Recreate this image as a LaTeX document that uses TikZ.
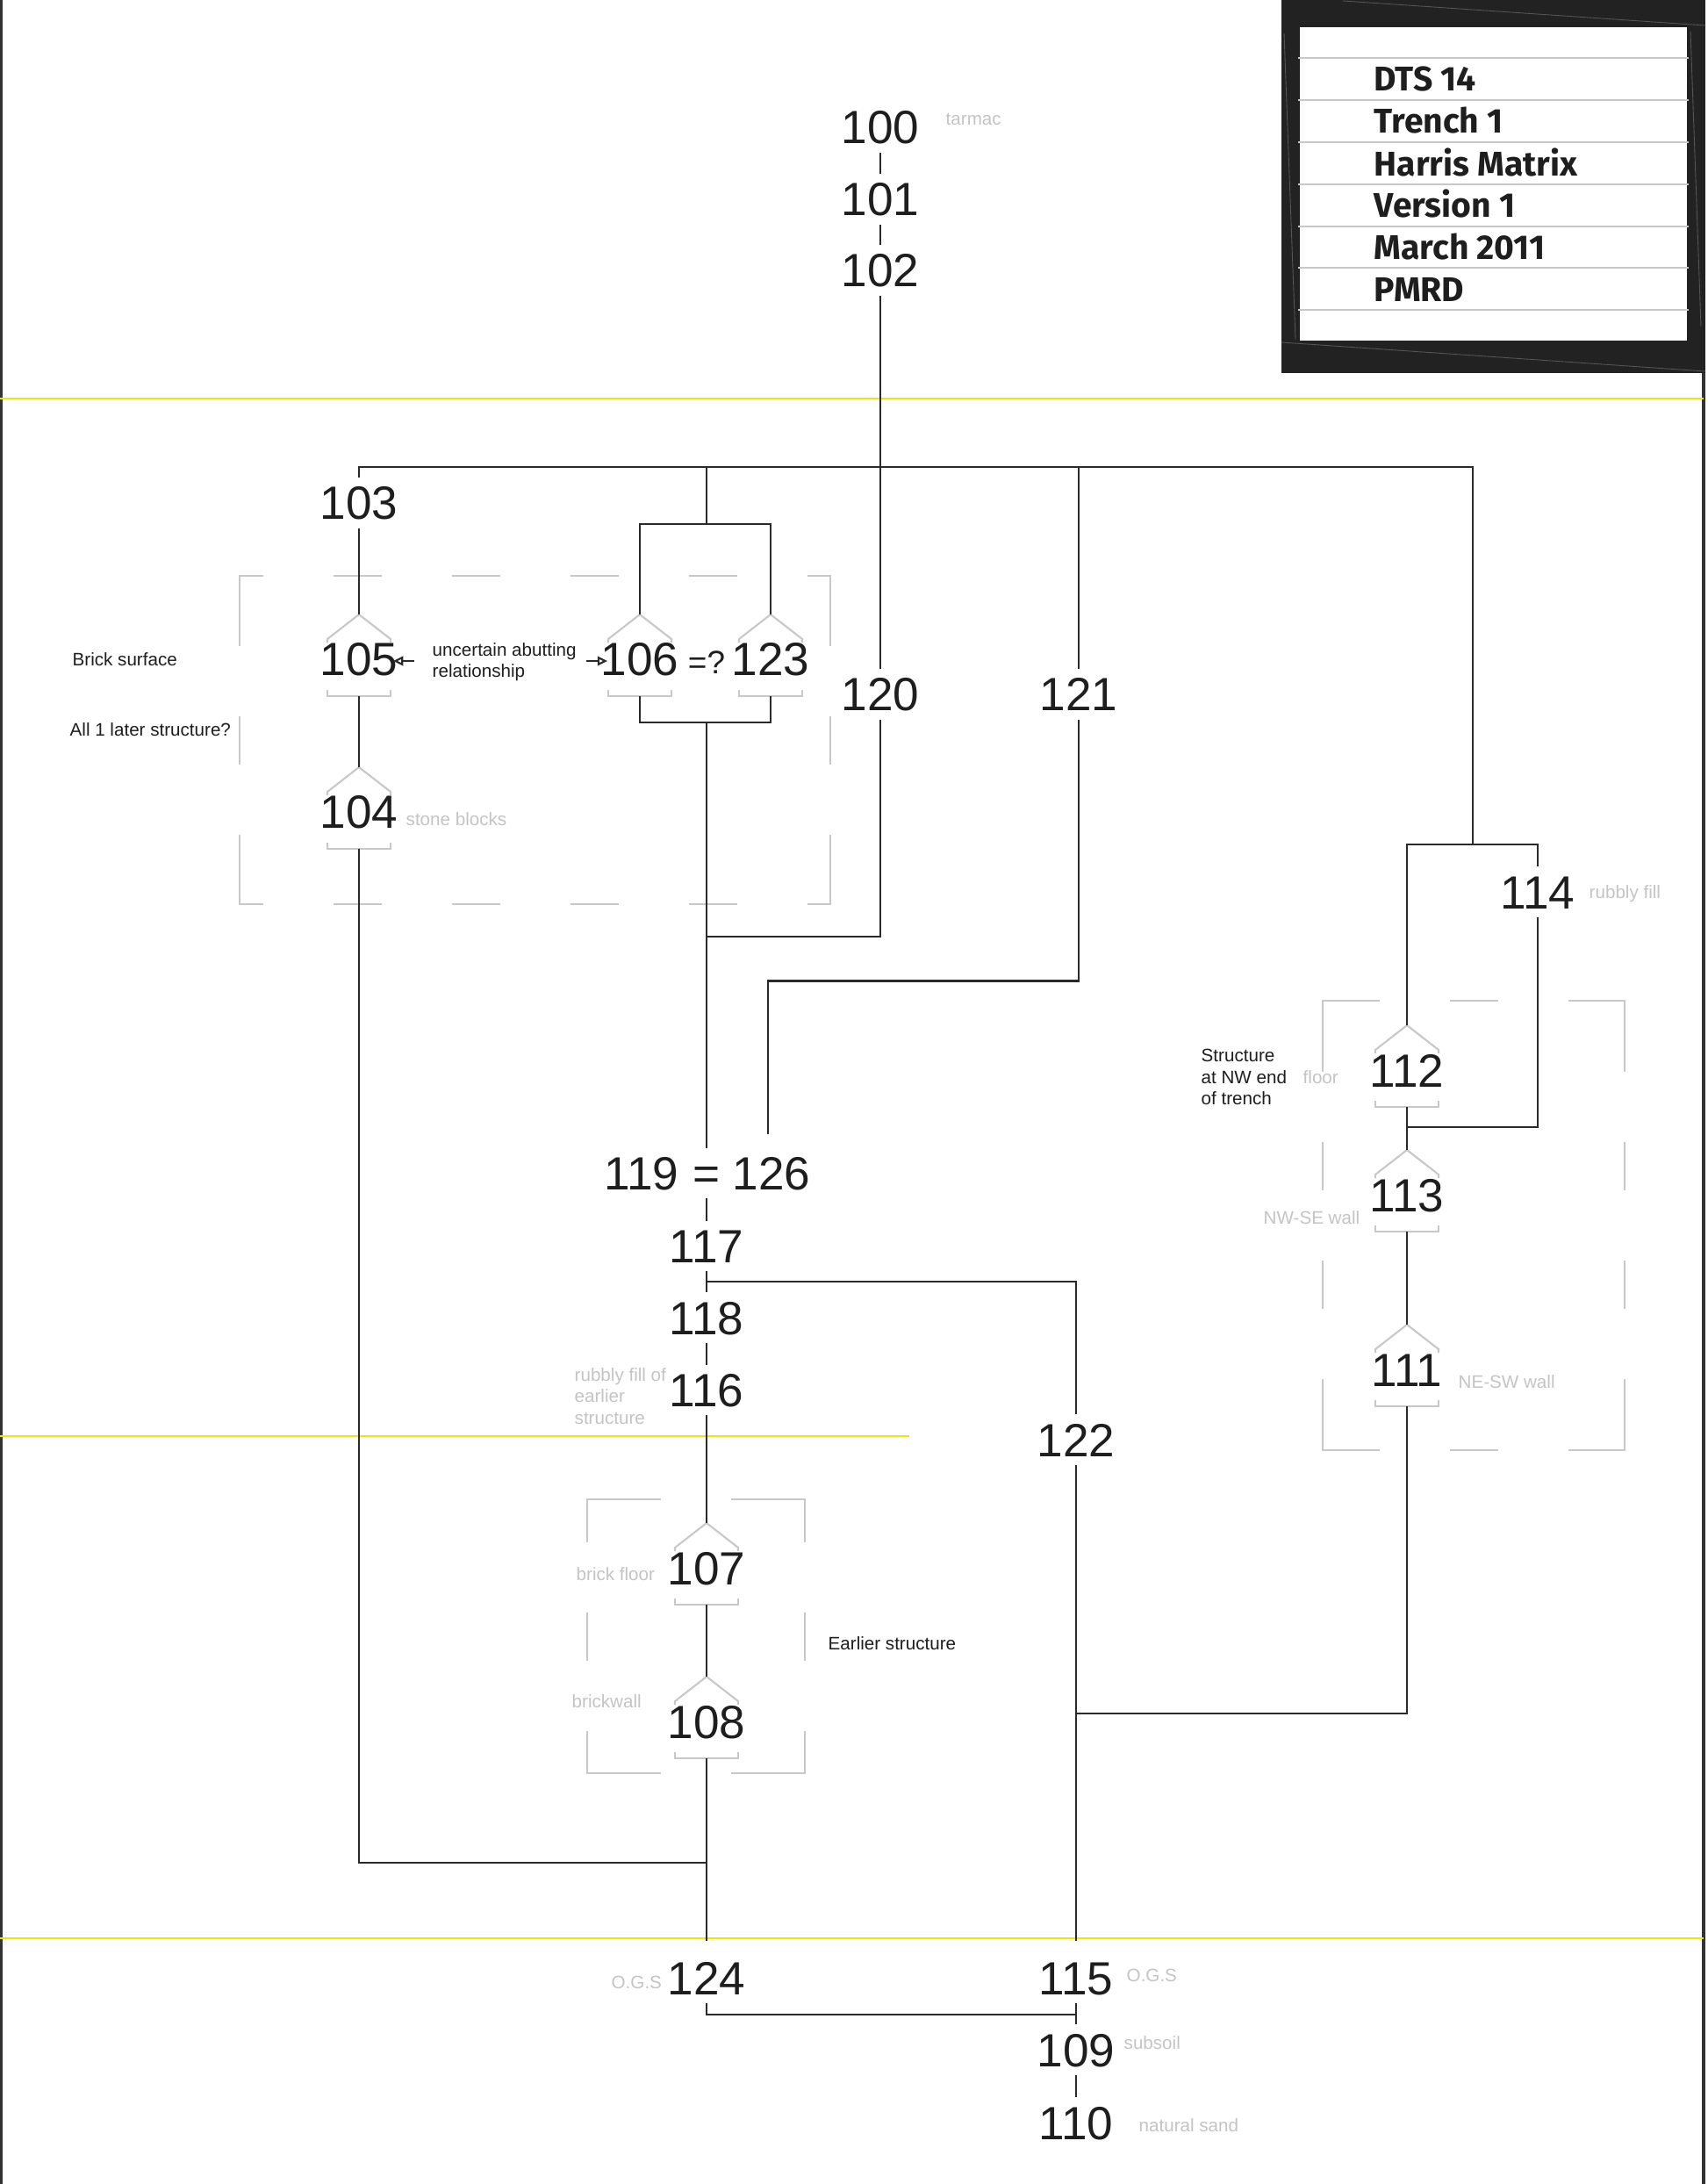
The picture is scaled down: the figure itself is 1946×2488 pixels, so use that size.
\documentclass[tikz,border=0pt]{standalone}
\usepackage{fontspec}
\setmainfont{Liberation Sans}
\newfontfamily\titlefont{Fira Sans}
\usetikzlibrary{arrows.meta}
\definecolor{linec}{HTML}{2A2A2A}
\definecolor{numc}{HTML}{1E1E1E}
\definecolor{grayl}{HTML}{C8C8C8}
\definecolor{grayt}{HTML}{C4C4C4}
\definecolor{yellowc}{HTML}{EEE31B}
\definecolor{framec}{HTML}{333333}
\definecolor{blk}{HTML}{222222}
\definecolor{scrc}{HTML}{555555}
\newcommand\unithouse[1]{%
  \draw[house] ([shift={(-36,-19)}]#1.center) -- ([shift={(-36,-23)}]#1.center) -- ([shift={(0,-51)}]#1.center) -- ([shift={(36,-23)}]#1.center) -- ([shift={(36,-19)}]#1.center);
  \draw[house] ([shift={(-36,35)}]#1.center) -- ([shift={(-36,42)}]#1.center) -- ([shift={(36,42)}]#1.center) -- ([shift={(36,35)}]#1.center);
  \coordinate (#1t) at ([shift={(0,-51)}]#1.center);
  \coordinate (#1b) at ([shift={(0,42)}]#1.center);
}
\begin{document}
\begin{tikzpicture}[x=0.01cm,y=-0.01cm,
  conn/.style={line width=0.6pt,draw=linec},
  num/.style={font=\fontsize{15.1}{18}\selectfont,text=numc,text height=10.8pt,text depth=0pt,inner xsep=1pt,inner ysep=2.6pt},
  lbl/.style={font=\fontsize{5.86}{7}\selectfont,text=grayt,inner sep=0pt,anchor=base west},
  note/.style={lbl,text=numc},
  house/.style={line width=0.6pt,draw=grayl},
  dbox/.style={line width=0.7pt,draw=grayl},
  yel/.style={line width=0.8pt,draw=yellowc},
  tline/.style={line width=0.6pt,draw=grayl},
  scr/.style={line width=0.25pt,draw=scrc},
  ttl/.style={font=\titlefont\bfseries\fontsize{11.1}{13}\selectfont,text=numc,inner sep=0pt,anchor=base west},
  openarrow/.style={conn,-{Triangle[open,length=3.2pt,width=3pt]}}
]
\useasboundingbox (0,0) rectangle (1946,2488);
\fill[white] (0,0) rectangle (1946,2488);

% frame
\draw[line width=1pt,draw=framec] (1,0) -- (1,2488);
\draw[line width=1pt,draw=framec] (1941,425) -- (1941,2488);

% yellow level lines
\draw[yel] (0,454) -- (1941,454);
\draw[yel] (0,1636) -- (1036,1636);
\draw[yel] (0,2208) -- (1941,2208);

% title block
\fill[blk] (1460,0) rectangle (1943,425);
\fill[white] (1481,31) rectangle (1922,388);
\foreach \yy in {66,114,162,210,258,305,353} \draw[tline] (1479,\yy) -- (1924,\yy);
\draw[scr] (1530,1) -- (1943,29);
\draw[scr] (1460,390) -- (1943,423);
\draw[scr] (1463,38) -- (1476,387);
\draw[scr] (1926,36) -- (1938,372);
\node[ttl] (tDTS) at (1565,104) {DTS 14};
\node[ttl] (tTrench) at (1565,152) {Trench 1};
\node[ttl] (tHarris) at (1565,200) {Harris Matrix};
\node[ttl] (tVersion) at (1565,248) {Version 1};
\node[ttl] (tMarch) at (1565,295) {March 2011};
\node[ttl] (tPMRD) at (1565,343) {PMRD};

% dashed grouping boxes
% box 1
\draw[dbox] (273,735.5) -- (273,656) -- (299.5,656);
\draw[dbox] (919.5,656) -- (946,656) -- (946,735.5);
\draw[dbox] (273,950.5) -- (273,1030) -- (299.5,1030);
\draw[dbox] (919.5,1030) -- (946,1030) -- (946,950.5);
\foreach \a in {379.5,514.5,649.5,784.5} \draw[dbox] (\a,656) -- ++(55,0) (\a,1030) -- ++(55,0);
\draw[dbox] (273,815.5) -- ++(0,55) (946,815.5) -- ++(0,55);
% box 2
\draw[dbox] (1507,1221) -- (1507,1140) -- (1571.5,1140);
\draw[dbox] (1786.5,1140) -- (1851,1140) -- (1851,1221);
\draw[dbox] (1507,1571) -- (1507,1652) -- (1571.5,1652);
\draw[dbox] (1786.5,1652) -- (1851,1652) -- (1851,1571);
\draw[dbox] (1651.5,1140) -- ++(55,0) (1651.5,1652) -- ++(55,0);
\foreach \a in {1301,1436} \draw[dbox] (1507,\a) -- ++(0,55) (1851,\a) -- ++(0,55);
% box 3
\draw[dbox] (669,1756.5) -- (669,1708) -- (753,1708);
\draw[dbox] (833,1708) -- (917,1708) -- (917,1756.5);
\draw[dbox] (669,1971.5) -- (669,2020) -- (753,2020);
\draw[dbox] (833,2020) -- (917,2020) -- (917,1971.5);
\draw[dbox] (669,1836.5) -- ++(0,55) (917,1836.5) -- ++(0,55);

% context numbers
\node[num] (n100) at (1003,145) {100};
\node[num] (n101) at (1003,227) {101};
\node[num] (n102) at (1003,308) {102};
\node[num] (n103) at (409,573) {103};
\node[num] (n105) at (409,751) {105};
\node[num] (n104) at (409,925) {104};
\node[num] (n106) at (729,751) {106};
\node[num] (n123) at (878,751) {123};
\node[font=\fontsize{10.5}{12}\selectfont,text=numc,inner sep=0pt,anchor=base] (neqq) at (805,767) {=?};
\node[num] (n120) at (1003,791) {120};
\node[num] (n121) at (1229,791) {121};
\node[num] (n114) at (1752,1016) {114};
\node[num] (n112) at (1603,1219) {112};
\node[num] (n113) at (1603,1361) {113};
\node[num] (n111) at (1603,1560) {111};
\node[num] (n119) at (731,1336.5) {119};
\node[num] (neq) at (805,1336.5) {=};
\node[num] (n126) at (879,1336.5) {126};
\node[num] (n117) at (805,1419.5) {117};
\node[num] (n118) at (805,1501) {118};
\node[num] (n116) at (805,1583.5) {116};
\node[num] (n122) at (1226,1640) {122};
\node[num] (n107) at (805,1786) {107};
\node[num] (n108) at (805,1961) {108};
\node[num] (n124) at (805,2253) {124};
\node[num] (n115) at (1226,2253) {115};
\node[num] (n109) at (1226,2335) {109};
\node[num] (n110) at (1226,2418) {110};

% house shapes
\unithouse{n105}
\unithouse{n104}
\unithouse{n106}
\unithouse{n123}
\unithouse{n112}
\unithouse{n113}
\unithouse{n111}
\unithouse{n107}
\unithouse{n108}

% junction coordinates
\coordinate (hL) at (409,532);
\coordinate (hR) at (1678,532);
\coordinate (b114) at (1678,962);
\coordinate (b114L) at (1603,962);
\coordinate (b114R) at (1752,962);
\coordinate (j114R) at (1752,1284);
\coordinate (j114L) at (1603,1284);
\coordinate (j111) at (1603,1952);
\coordinate (j122) at (1226,1952);
\coordinate (j104) at (409,2122);
\coordinate (j108) at (805,2122);
\coordinate (g1) at (805,532);
\coordinate (g2) at (805,597);
\coordinate (g3) at (729,597);
\coordinate (g4) at (878,597);
\coordinate (g5) at (729,823);
\coordinate (g6) at (878,823);
\coordinate (g7) at (805,823);
\coordinate (j120) at (1003,1067);
\coordinate (j120L) at (805,1067);
\coordinate (j121T) at (1229,532);
\coordinate (j121) at (1229,1117.5);
\coordinate (j121L) at (875,1117.5);
\coordinate (j126) at (875,1292);
\coordinate (j117) at (805,1460);
\coordinate (j117R) at (1226,1460);
\coordinate (j124) at (805,2295);
\coordinate (j115) at (1226,2295);
\coordinate (a1s) at (472,753);
\coordinate (a1e) at (448,753);
\coordinate (a2s) at (668,753);
\coordinate (a2e) at (692,753);

% connectors
\draw[conn] (n100) -- (n101);
\draw[conn] (n101) -- (n102);
\draw[conn] (n102) -- (n120);
\draw[conn] (n103.north) -- (hL) -- (hR) -- (b114);
\draw[conn] (n112t) -- (b114L) -- (b114R) -- (n114);
\draw[conn] (n114) -- (j114R) -- (j114L);
\draw[conn] (n112b) -- (n113t);
\draw[conn] (n113b) -- (n111t);
\draw[conn] (n111b) -- (j111) -- (j122);
\draw[conn] (n103) -- (n105t);
\draw[conn] (n105b) -- (n104t);
\draw[conn] (n104b) -- (j104) -- (j108);
\draw[conn] (g1) -- (g2);
\draw[conn] (n106t) -- (g3) -- (g4) -- (n123t);
\draw[conn] (n106b) -- (g5) -- (g6) -- (n123b);
\draw[conn] (g7) -- (neq);
\draw[conn] (n120) -- (j120) -- (j120L);
\draw[conn] (j121T) -- (n121);
\draw[conn] (n121) -- (j121) -- (j121L) -- (j126);
\draw[conn] (neq) -- (n117);
\draw[conn] (n117) -- (n118);
\draw[conn] (j117) -- (j117R) -- (n122);
\draw[conn] (n118) -- (n116);
\draw[conn] (n116) -- (n107t);
\draw[conn] (n107b) -- (n108t);
\draw[conn,shorten >=3.7pt] (n108b) -- (n124);
\draw[conn,shorten >=3.7pt] (n122) -- (n115);
\draw[conn] (n124) -- (j124) -- (j115);
\draw[conn] (n115) -- (n109);
\draw[conn] (n109) -- (n110);
\draw[openarrow] (a1s) -- (a1e);
\draw[openarrow] (a2s) -- (a2e);

% labels
\node[lbl] (lTarmac) at (1077,143) {tarmac};
\node[lbl] (lStone) at (462,940) {stone blocks};
\node[lbl] (lRubbly) at (1810,1023) {rubbly fill};
\node[lbl] (lFloor) at (1484,1234) {floor};
\node[lbl] (lNWSE) at (1439,1394) {NW-SE wall};
\node[lbl] (lNESW) at (1661,1581) {NE-SW wall};
\node[note] (lStr1) at (1368,1209.5) {Structure};
\node[note] (lStr2) at (1368,1234) {at NW end};
\node[note] (lStr3) at (1368,1258.5) {of trench};
\node[lbl] (lRf1) at (654,1573) {rubbly fill of};
\node[lbl] (lRf2) at (654,1597.5) {earlier};
\node[lbl] (lRf3) at (654,1622) {structure};
\node[lbl] (lBfloor) at (656,1800) {brick floor};
\node[lbl] (lBwall) at (651,1945) {brickwall};
\node[note] (lEarlier) at (943,1879) {Earlier structure};
\node[lbl] (lOGS1) at (696,2265) {O.G.S};
\node[lbl] (lOGS2) at (1283,2257) {O.G.S};
\node[lbl] (lSub) at (1280,2334) {subsoil};
\node[lbl] (lSand) at (1297,2428) {natural sand};
\node[note] (lBrick) at (82,758) {Brick surface};
\node[note] (lAll) at (79,838) {All 1 later structure?};
\node[note] (lUnc1) at (492,747) {uncertain abutting};
\node[note] (lUnc2) at (492,771) {relationship};
\end{tikzpicture}
\end{document}
